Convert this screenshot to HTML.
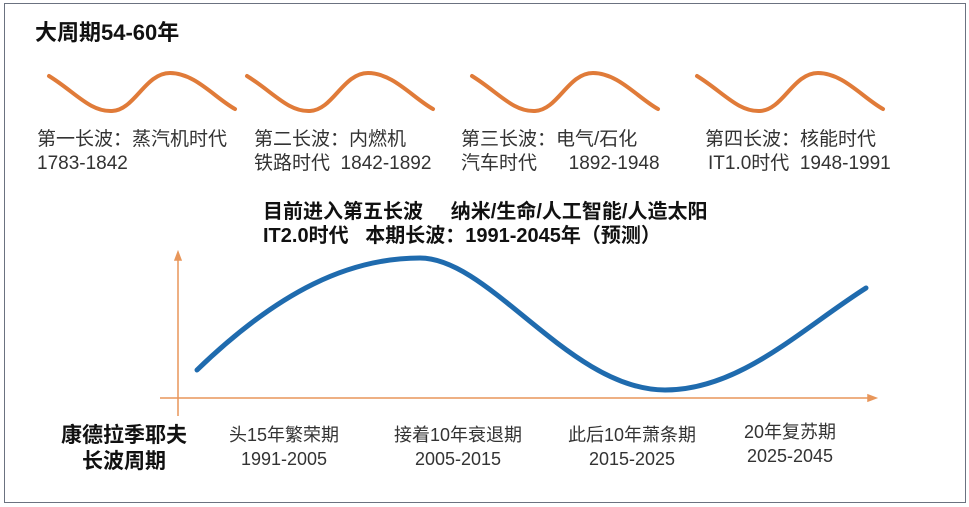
<!DOCTYPE html>
<html><head><meta charset="utf-8"><style>
body{margin:0;background:#fff;}
svg{display:block;font-family:"Liberation Sans","Noto Sans CJK SC",sans-serif;}
text{white-space:pre;}
.l{font-size:19px;fill:#333;}
.b{font-size:20px;font-weight:bold;fill:#111;}
.c{font-size:18px;fill:#333;text-anchor:middle;}
</style></head><body>
<svg width="969" height="507" viewBox="0 0 969 507">
<rect x="4.5" y="3.5" width="961" height="499" fill="#fff" stroke="#6b7280" stroke-width="1"/>
<text x="35" y="40" font-size="22" font-weight="bold" fill="#111">大周期54-60年</text>
<g fill="none" stroke="#E07B39" stroke-width="4" stroke-linecap="round">
<path id="w" d="M49 76 C75 92 90 112 112 111 C135 110 145 73 170 73 C195 73 215 98 235 109"/>
<use href="#w" x="198"/>
<use href="#w" x="423"/>
<use href="#w" x="648"/>
</g>
<text class="l" x="37" y="145">第一长波：蒸汽机时代</text>
<text class="l" x="37" y="169">1783-1842</text>
<text class="l" x="254" y="145">第二长波：内燃机</text>
<text class="l" x="254" y="169">铁路时代  1842-1892</text>
<text class="l" x="461" y="145">第三长波：电气/石化</text>
<text class="l" x="461" y="169">汽车时代      1892-1948</text>
<text class="l" x="705" y="145">第四长波：核能时代</text>
<text class="l" x="708" y="169">IT1.0时代  1948-1991</text>
<text class="b" x="263" y="218">目前进入第五长波     纳米/生命/人工智能/人造太阳</text>
<text class="b" x="263" y="242">IT2.0时代   本期长波：1991-2045年（预测）</text>
<g stroke="#E8965A" stroke-width="1.5" fill="#E8965A">
<line x1="178" y1="256" x2="178" y2="416"/>
<path d="M175 260 L178 252 L181 260Z"/>
<line x1="160" y1="398" x2="870" y2="398"/>
<path d="M868 395 L876 398 L868 401Z"/>
</g>
<path d="M197 370 C280 290 350 258 420 258 C490 258 570 390 665 390 C740 390 800 330 866 288" fill="none" stroke="#1F6BAE" stroke-width="5" stroke-linecap="round"/>
<text x="124" y="442" font-size="21" font-weight="bold" fill="#111" text-anchor="middle">康德拉季耶夫</text>
<text x="124" y="468" font-size="21" font-weight="bold" fill="#111" text-anchor="middle">长波周期</text>
<text class="c" x="284" y="441">头15年繁荣期</text>
<text class="c" x="284" y="465">1991-2005</text>
<text class="c" x="458" y="441">接着10年衰退期</text>
<text class="c" x="458" y="465">2005-2015</text>
<text class="c" x="632" y="441">此后10年萧条期</text>
<text class="c" x="632" y="465">2015-2025</text>
<text class="c" x="790" y="438">20年复苏期</text>
<text class="c" x="790" y="462">2025-2045</text>
</svg>
</body></html>
